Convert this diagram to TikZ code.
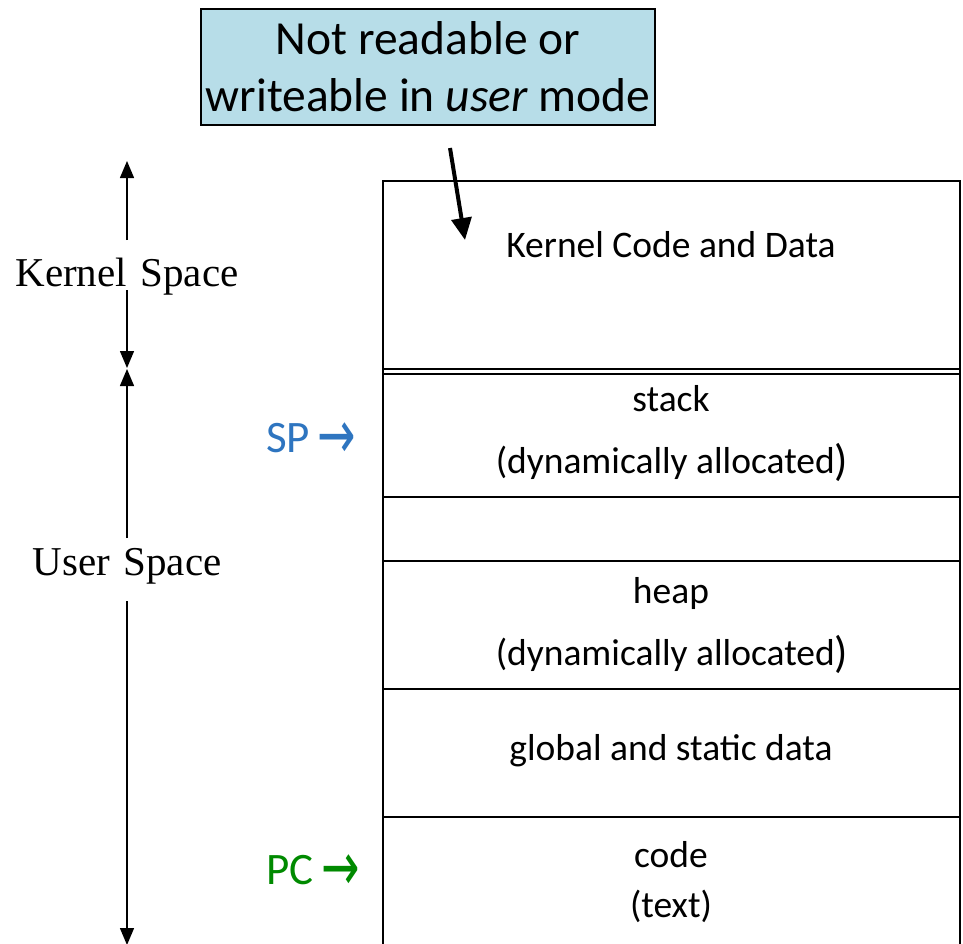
\documentclass[tikz,border=0pt]{standalone}
\usepackage{fontspec}
\setmainfont{Carlito}
\newfontfamily\timesf{Liberation Serif}
\newfontfamily\arrowf{DejaVu Sans}
\usetikzlibrary{arrows.meta}
\definecolor{boxblue}{HTML}{B7DDE8}
\definecolor{spblue}{HTML}{2E75C0}
\definecolor{pcgreen}{HTML}{008A00}
\newcommand{\ptrarrow}{{\arrowf\fontsize{34}{34}\selectfont\raisebox{-6pt}{\scalebox{1.35}[2.0]{→}}}}
\tikzset{
  region/.style={inner sep=0pt, align=center, font=\fontsize{37.5}{62}\selectfont},
  sidelabel/.style={inner sep=0pt, font=\timesf\fontsize{41}{42}\selectfont},
  spanarrow/.style={line width=1.4pt, -{Triangle[length=17pt,width=14pt]}},
  memline/.style={line width=1.5pt},
  reglabel/.style={inner sep=0pt, font=\fontsize{45}{46}\selectfont},
}
\begin{document}
\begin{tikzpicture}[x=1pt,y=-1pt]
\useasboundingbox (0,0) rectangle (963,943);
% note box
\node[draw, line width=1.2pt, fill=boxblue, minimum width=454pt, minimum height=116pt, inner sep=0pt,
  align=center, font=\fontsize{47.5}{57}\selectfont] (note) at (428,67)
  {Not readable or\\writeable in \textit{user} mode};
% memory layout outline
\coordinate (tl) at (383,181);
\coordinate (tr) at (960,181);
\coordinate (bl) at (383,950);
\coordinate (br) at (960,950);
\draw[memline] (bl) -- (tl) -- (tr) -- (br);
\draw[memline] (383,369) -- (960,369);
\draw[memline] (383,374) -- (960,374);
\draw[memline] (383,497) -- (960,497);
\draw[memline] (383,561) -- (960,561);
\draw[memline] (383,689) -- (960,689);
\draw[memline] (383,817) -- (960,817);
% region texts
\node[region] (kernel) at (671,245) {Kernel Code and Data};
\node[region] (stack) at (671,434) {stack\\(dynamically allocated\rlap{\raisebox{-2pt}{\fontsize{44}{44}\selectfont)}}\phantom{)}};
\node[region] (heap) at (671,626) {heap\\(dynamically allocated\rlap{\raisebox{-2pt}{\fontsize{44}{44}\selectfont)}}\phantom{)}};
\node[region] (global) at (671,751) {global and static data};
\node[region, font=\fontsize{37.5}{50}\selectfont] (code) at (671,882) {code\\(text)};
% note arrow
\coordinate (na) at (450,148);
\coordinate (nb) at (465,240);
\draw[line width=4pt, -{Triangle[length=22pt,width=20pt]}] (na) -- (nb);
% side labels
\node[sidelabel] (ks) at (127,277) {Kernel\,\,Space};
\node[sidelabel] (us) at (127,566) {User\,\,Space};
\coordinate (kt1) at (127,240);
\coordinate (kt) at (127,161);
\coordinate (kb1) at (127,290);
\coordinate (kb) at (127,368);
\coordinate (ut1) at (127,538);
\coordinate (ut) at (127,369);
\coordinate (ub1) at (127,601);
\coordinate (ub) at (127,945);
\draw[spanarrow] (kt1) -- (kt);
\draw[spanarrow] (kb1) -- (kb);
\draw[spanarrow] (ut1) -- (ut);
\draw[spanarrow] (ub1) -- (ub);
% pointers
\node[reglabel, text=spblue] (sp) at (311,441) {SP\,\ptrarrow};
\node[reglabel, text=pcgreen] (pc) at (313,873) {PC\,\ptrarrow};
\end{tikzpicture}
\end{document}
